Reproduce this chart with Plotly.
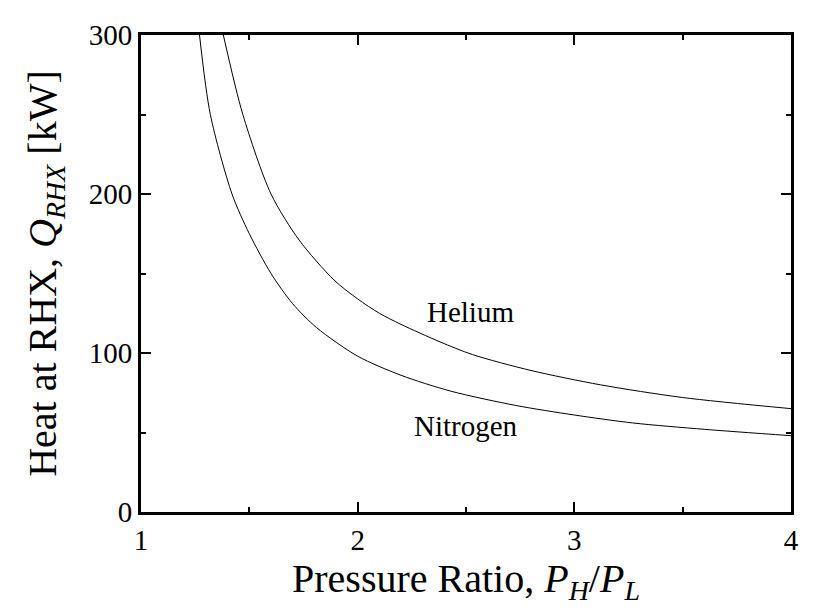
import plotly.graph_objects as go

nitrogen_ratio = [1.27, 1.32, 1.42, 1.50, 1.60, 1.70, 1.81, 2.00, 2.20, 2.43, 2.73, 3.00, 3.27, 3.60, 4.00]
nitrogen_heat = [300, 250, 200, 175, 150, 131, 116, 98, 86, 76, 67, 61, 56, 52, 48]

helium_ratio = [1.38, 1.47, 1.60, 1.73, 1.89, 2.00, 2.10, 2.20, 2.38, 2.53, 2.80, 3.12, 3.50, 4.00]
helium_heat = [300, 250, 200, 171, 146, 134, 125, 118, 107, 99, 89, 80, 72, 65]

labels = ['Helium', 'Nitrogen']
label_x = [2.52, 2.50]
label_y = [126, 54]

serif = 'Liberation Serif, Times New Roman, serif'

fig = go.Figure()

for xs, ys, name in [(helium_ratio, helium_heat, 'Helium'),
                     (nitrogen_ratio, nitrogen_heat, 'Nitrogen')]:
    fig.add_trace(go.Scatter(
        x=xs,
        y=ys,
        mode='lines',
        line=dict(color='black', width=1, shape='spline', smoothing=0.8),
        name=name,
        showlegend=False
    ))

for text, x, y in zip(labels, label_x, label_y):
    fig.add_annotation(x=x, y=y, text=text, showarrow=False,
                       font=dict(family=serif, size=29, color='black'))

axis_style = dict(
    showline=True,
    linecolor='black',
    linewidth=3,
    mirror='ticks',
    ticks='inside',
    ticklen=10,
    tickwidth=2,
    tickcolor='black',
    showgrid=False,
    zeroline=False,
    tickfont=dict(family=serif, size=29, color='black'),
)

fig.update_xaxes(
    range=[1, 4],
    tickvals=[1, 2, 3, 4],
    minor=dict(tickvals=[1.5, 2.5, 3.5], ticks='inside', ticklen=5, tickwidth=2, tickcolor='black'),
    title=dict(text='Pressure Ratio, <i>P</i><sub><i>H</i></sub>/<i>P</i><sub><i>L</i></sub>',
               font=dict(family=serif, size=40, color='black'), standoff=0),
    **axis_style
)
fig.update_yaxes(
    range=[0, 300],
    tickvals=[0, 100, 200, 300],
    minor=dict(tickvals=[50, 150, 250], ticks='inside', ticklen=5, tickwidth=2, tickcolor='black'),
    title=dict(text='Heat at RHX, <i>Q</i><sub><i>RHX</i></sub> [kW]',
               font=dict(family=serif, size=40, color='black'), standoff=20),
    **axis_style
)

# page body has an 8px margin, so shift and shrink the figure to match
fig.update_layout(
    width=816,
    height=607,
    margin=dict(l=133, r=33, t=27, b=103),
    plot_bgcolor='white',
    paper_bgcolor='white',
)

fig.write_html('out.html')
